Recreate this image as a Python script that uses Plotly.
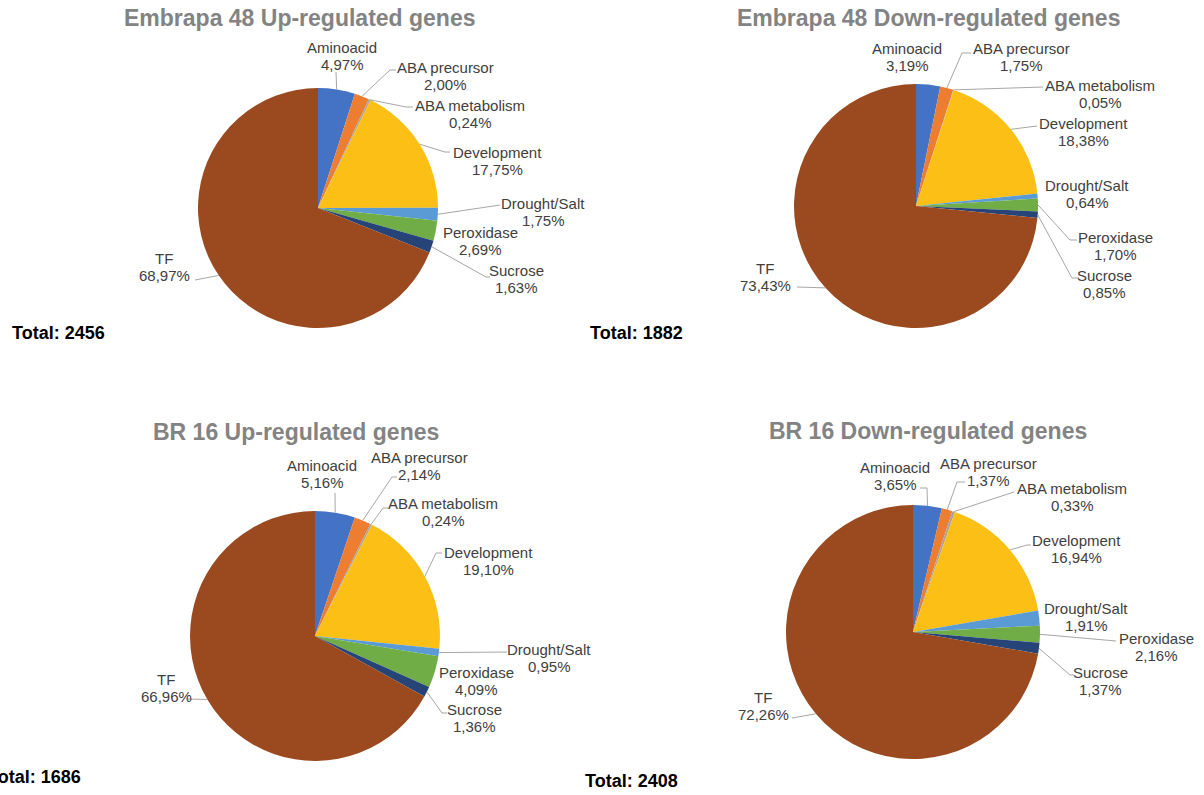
import math
import plotly.graph_objects as go

# ---- data -------------------------------------------------------------
categories = ["Aminoacid", "ABA precursor", "ABA metabolism", "Development",
              "Drought/Salt", "Peroxidase", "Sucrose", "TF"]

emb48_up = [4.97, 2.00, 0.24, 17.75, 1.75, 2.69, 1.63, 68.97]
emb48_down = [3.19, 1.75, 0.05, 18.38, 0.64, 1.70, 0.85, 73.43]
br16_up = [5.16, 2.14, 0.24, 19.10, 0.95, 4.09, 1.36, 66.96]
br16_down = [3.65, 1.37, 0.33, 16.94, 1.91, 2.16, 1.37, 72.26]

titles = ["Embrapa 48 Up-regulated genes", "Embrapa 48 Down-regulated genes",
          "BR 16 Up-regulated genes", "BR 16 Down-regulated genes"]
totals = [2456, 1882, 1686, 2408]

series = [emb48_up, emb48_down, br16_up, br16_down]

# ---- styling / layout -------------------------------------------------
W, H = 1204, 795
colors = ["#4472C4", "#ED7D31", "#A5A5A5", "#FBBF15",
          "#5B9BD5", "#70AD47", "#264478", "#9B4A1F"]

# pie centre (px) and radius (px)
pie_geom = [(318, 208, 120), (916, 206, 122), (315, 636, 125), (913, 632, 127)]
title_pos = [(300, 18), (928, 18), (296, 432), (928, 431)]
# (x, y, xanchor)
total_pos = [(10, 333, "left"), (685, 333, "right"), (83, 777, "right"), (680, 781, "right")]

# label placement: (centre x, first line y, leader waypoints after the slice edge)
label_layout = [
    [(342, 47, [(336, 72)]),
     (445, 67, [(390, 70), (396, 70)]),
     (470, 105, [(406, 107), (413, 107)]),
     (497, 152, [(445, 152), (450, 152)]),
     (543, 203, [(500, 205)]),
     (480, 232, None),
     (516, 270, [(486, 277), (490, 277)]),
     (164, 258, [(195, 280)])],
    [(907, 48, None),
     (1021, 48, [(962, 53), (971, 53)]),
     (1100, 85, [(1043, 87)]),
     (1083, 123, [(1037, 126)]),
     (1087, 185, None),
     (1115, 237, [(1070, 240), (1077, 240)]),
     (1104, 275, [(1072, 278), (1079, 278)]),
     (765, 268, [(797, 287)])],
    [(322, 465, [(335, 493)]),
     (419, 457, [(392, 477), (397, 477)]),
     (443, 503, [(383, 508), (388, 508)]),
     (488, 552, [(436, 553), (442, 553)]),
     (549, 649, [(507, 652)]),
     (476, 672, None),
     (474, 709, [(442, 713), (447, 713)]),
     (166, 679, [(186, 699)])],
    [(895, 467, [(927, 488), (920, 488)]),
     (988, 463, [(957, 482), (965, 482)]),
     (1072, 488, [(1014, 492)]),
     (1076, 540, [(1027, 545), (1031, 545)]),
     (1086, 608, None),
     (1156, 638, [(1116, 641)]),
     (1100, 672, [(1070, 675), (1074, 675)]),
     (763, 697, [(792, 718)])],
]

LABEL_FONT = dict(family="Liberation Sans, Arial, sans-serif", size=15, color="#404040")
LINE_GAP = 17

fig = go.Figure()
annotations = []
shapes = []

for k, vals in enumerate(series):
    cx, cy, r = pie_geom[k]
    fig.add_trace(go.Pie(
        labels=categories, values=vals, sort=False, direction="clockwise",
        rotation=0, textinfo="none", hoverinfo="label+percent",
        marker=dict(colors=colors, line=dict(width=0)),
        domain=dict(x=[(cx - r) / W, (cx + r) / W],
                    y=[1 - (cy + r) / H, 1 - (cy - r) / H]),
        showlegend=False,
    ))

    total = sum(vals)
    cum = 0.0
    for i, v in enumerate(vals):
        mid = 2 * math.pi * (cum + v / 2) / total
        cum += v
        ex, ey = cx + r * math.sin(mid), cy - r * math.cos(mid)
        lx, ly, leader = label_layout[k][i]
        pct = f"{v:.2f}".replace(".", ",") + "%"
        annotations.append(dict(x=lx, y=ly, xref="x", yref="y", text=categories[i],
                                showarrow=False, font=LABEL_FONT, xanchor="center", yanchor="middle"))
        annotations.append(dict(x=lx, y=ly + LINE_GAP, xref="x", yref="y", text=pct,
                                showarrow=False, font=LABEL_FONT, xanchor="center", yanchor="middle"))
        if leader:
            pts = [(ex, ey)] + leader
            path = "M " + " L ".join(f"{px:.1f},{py:.1f}" for px, py in pts)
            shapes.append(dict(type="path", path=path, xref="x", yref="y",
                               line=dict(color="#A6A6A6", width=1), layer="above"))

    tx, ty = title_pos[k]
    annotations.append(dict(x=tx, y=ty, xref="x", yref="y", text=f"<b>{titles[k]}</b>",
                            showarrow=False, xanchor="center", yanchor="middle",
                            font=dict(family="Liberation Sans, Arial, sans-serif", size=23,
                                      color="#838383")))
    ox, oy, oa = total_pos[k]
    annotations.append(dict(x=ox, y=oy, xref="x", yref="y", text=f"<b>Total: {totals[k]}</b>",
                            showarrow=False, xanchor=oa, yanchor="middle",
                            font=dict(family="Liberation Sans Narrow, Arial Narrow, Liberation Sans, sans-serif",
                                      size=18, color="#000000")))

fig.update_layout(
    width=W, height=H,
    margin=dict(l=0, r=0, t=0, b=0),
    paper_bgcolor="white", plot_bgcolor="white",
    xaxis=dict(range=[0, W], visible=False, domain=[0, 1], fixedrange=True),
    yaxis=dict(range=[H, 0], visible=False, domain=[0, 1], fixedrange=True),
    annotations=annotations, shapes=shapes,
)

fig.write_html("out.html")
